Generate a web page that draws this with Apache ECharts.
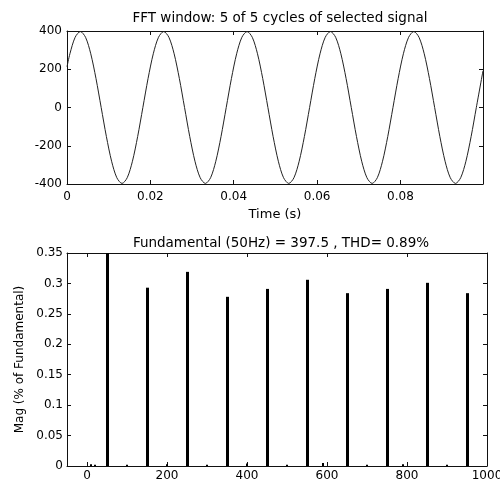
<!DOCTYPE html>
<html>
<head>
<meta charset="utf-8">
<script src="https://cdn.jsdelivr.net/npm/echarts@6/dist/echarts.min.js"></script>
<style>
  html, body { margin: 0; padding: 0; background: #fff; }
  #chart { width: 500px; height: 489px; }
</style>
</head>
<body>
<div id="chart"></div>
<script>
const timeS = [0,
  0.0007, 0.00195, 0.0032, 0.00445, 0.0057, 0.00695, 0.0082, 0.00945,
  0.0107, 0.01195, 0.0132, 0.01445, 0.0157, 0.01695, 0.0182, 0.01945,
  0.0207, 0.02195, 0.0232, 0.02445, 0.0257, 0.02695, 0.0282, 0.02945,
  0.0307, 0.03195, 0.0332, 0.03445, 0.0357, 0.03695, 0.0382, 0.03945,
  0.0407, 0.04195, 0.0432, 0.04445, 0.0457, 0.04695, 0.0482, 0.04945,
  0.0507, 0.05195, 0.0532, 0.05445, 0.0557, 0.05695, 0.0582, 0.05945,
  0.0607, 0.06195, 0.0632, 0.06445, 0.0657, 0.06695, 0.0682, 0.06945,
  0.0707, 0.07195, 0.0732, 0.07445, 0.0757, 0.07695, 0.0782, 0.07945,
  0.0807, 0.08195, 0.0832, 0.08445, 0.0857, 0.08695, 0.0882, 0.08945,
  0.0907, 0.09195, 0.0932, 0.09445, 0.0957, 0.09695, 0.0982,
  0.0998]
const signalV = [213,
  281, 367, 397, 367, 281, 152, 0, -152, -281, -367, -397, -367, -281, -152, 0, 152,
  281, 367, 397, 367, 281, 152, 0, -152, -281, -367, -397, -367, -281, -152, 0, 152,
  281, 367, 397, 367, 281, 152, 0, -152, -281, -367, -397, -367, -281, -152, 0, 152,
  281, 367, 397, 367, 281, 152, 0, -152, -281, -367, -397, -367, -281, -152, 0, 152,
  281, 367, 397, 367, 281, 152, 0, -152, -281, -367, -397, -367, -281, -152, 0,
  192]
const timeTicks = [0, 0.02, 0.04, 0.06, 0.08]

// bottom plot: harmonic spectrum
const harmHz = [50, 150, 250, 350, 450, 550, 650, 750, 850, 950]
const harmMag = [100, 0.293, 0.319, 0.278, 0.291, 0.306, 0.284, 0.291, 0.301, 0.284]
const noiseHz = [10, 20, 100, 200, 300, 400, 500, 590, 700, 790, 900]
const noiseMag = [0.003, 0.002, 0.002, 0.003, 0.002, 0.004, 0.002, 0.005, 0.002, 0.003, 0.002]
const freqTicks = [0, 200, 400, 600, 800, 1000]

const font = 'DejaVu Sans'
const ink = '#111'

const chart = echarts.init(document.getElementById('chart'))

function boxAxis(extra) {
  return Object.assign({
    type: 'value',
    axisLine: { show: true, onZero: false, lineStyle: { color: ink, width: 1 } },
    axisTick: { show: true, inside: true, length: 4, lineStyle: { color: ink } },
    axisLabel: { show: false },
    splitLine: { show: false }
  }, extra)
}

function ticksAt(values) {
  return { show: true, inside: true, length: 4, lineStyle: { color: ink }, customValues: values }
}

const labelStyle = { color: '#000', fontFamily: font, fontSize: 12 }
const titleStyle = { color: '#000', fontFamily: font, fontSize: 13.5, fontWeight: 'normal' }
const plain = v => String(v)

chart.setOption({
  animation: false,
  backgroundColor: '#fff',
  title: [{
    text: 'FFT window: 5 of 5 cycles of selected signal',
    left: 275, top: 6, textAlign: 'center',
    textStyle: titleStyle
  }, {
    text: 'Fundamental (50Hz) = 397.5 , THD= 0.89%',
    left: 276, top: 231, textAlign: 'center',
    textStyle: titleStyle
  }],
  grid: [
    { left: 67, top: 31, width: 416, height: 153, outerBoundsMode: 'none' },
    { left: 67, top: 253, width: 420, height: 213, outerBoundsMode: 'none' }
  ],
  xAxis: [
    boxAxis({
      gridIndex: 0, min: 0, max: 0.0998,
      name: 'Time (s)', nameLocation: 'middle', nameGap: 24,
      nameTextStyle: Object.assign({}, labelStyle, { fontSize: 13 }),
      axisTick: ticksAt(timeTicks),
      axisLabel: Object.assign({ show: true, margin: 7, customValues: timeTicks, formatter: plain }, labelStyle)
    }),
    boxAxis({ gridIndex: 0, min: 0, max: 0.0998, position: 'top', axisTick: ticksAt(timeTicks) }),
    boxAxis({
      gridIndex: 1, min: -50, max: 1000,
      axisTick: ticksAt(freqTicks),
      axisLabel: Object.assign({ show: true, margin: 4, customValues: freqTicks, formatter: plain }, labelStyle)
    }),
    boxAxis({ gridIndex: 1, min: -50, max: 1000, position: 'top', axisTick: ticksAt(freqTicks) })
  ],
  yAxis: [
    boxAxis({
      gridIndex: 0, min: -400, max: 400, interval: 200,
      axisLabel: Object.assign({ show: true, margin: 5 }, labelStyle)
    }),
    boxAxis({ gridIndex: 0, min: -400, max: 400, interval: 200, position: 'right' }),
    boxAxis({
      gridIndex: 1, min: 0, max: 0.35, interval: 0.05,
      name: 'Mag (% of Fundamental)', nameLocation: 'middle', nameGap: 33,
      nameTextStyle: labelStyle,
      axisLabel: Object.assign({ show: true, margin: 4 }, labelStyle)
    }),
    boxAxis({ gridIndex: 1, min: 0, max: 0.35, interval: 0.05, position: 'right' })
  ],
  series: [{
    type: 'line',
    xAxisIndex: 0, yAxisIndex: 0,
    data: timeS.map((t, i) => [t, signalV[i]]),
    smooth: 0.3,
    showSymbol: false,
    clip: true,
    lineStyle: { color: '#222', width: 1 }
  }, {
    type: 'bar',
    xAxisIndex: 2, yAxisIndex: 2,
    data: harmHz.map((f, i) => [f, harmMag[i]]),
    barWidth: 3,
    clip: true,
    itemStyle: { color: '#000' }
  }, {
    type: 'bar',
    xAxisIndex: 2, yAxisIndex: 2,
    data: noiseHz.map((f, i) => [f, noiseMag[i]]),
    barWidth: 2,
    barGap: '-100%',
    clip: true,
    itemStyle: { color: '#000' }
  }]
})
</script>
</body>
</html>
